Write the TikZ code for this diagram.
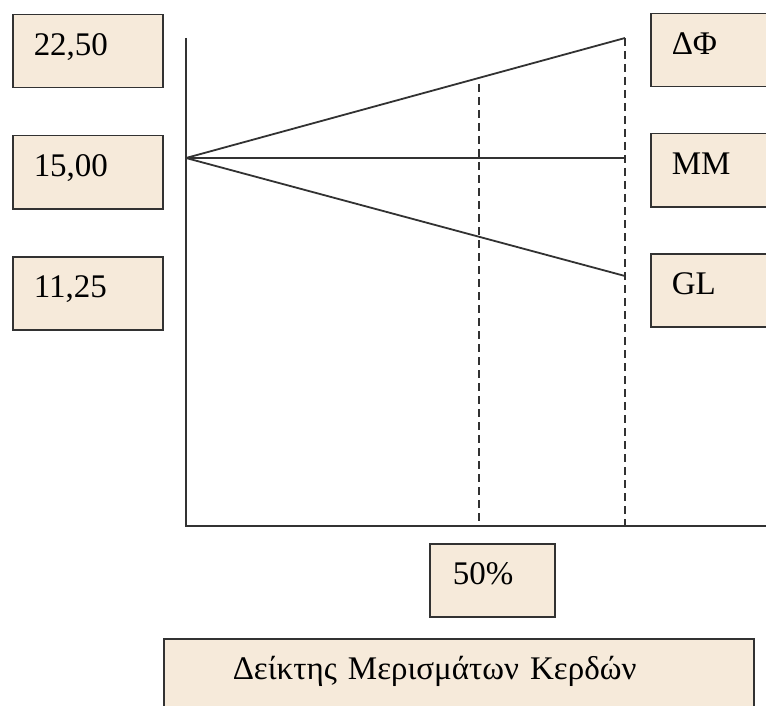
\documentclass[tikz,border=0pt]{standalone}
\usepackage{fontspec}
\setmainfont{Liberation Serif}
\usetikzlibrary{positioning}
\definecolor{boxfill}{RGB}{246,234,218}
\definecolor{inkgray}{RGB}{50,50,50}

\begin{document}
\begin{tikzpicture}[x=1pt, y=-1pt,
    valbox/.style={draw=inkgray, line width=1.5pt, fill=boxfill,
        anchor=north west, inner xsep=21pt, inner ysep=14pt,
        text height=27pt, text depth=18pt, align=left,
        font=\fontsize{33}{38}\selectfont},
    axisline/.style={draw=inkgray, line width=1.6pt},
    trendline/.style={draw=inkgray, line width=1.8pt},
    guideline/.style={draw=inkgray, line width=1.6pt, dash pattern=on 8pt off 5pt}
]
                \clip (0,0) rectangle (766,706);

                % value boxes on the left
                \node[valbox, text width=108pt] (high) at (12,14) {22,50};
                \node[valbox, text width=108pt] (base) at (12,135) {15,00};
                \node[valbox, text width=108pt] (low) at (12,256) {11,25};

                % method boxes on the right
                \node[valbox, text width=100pt] (lbldphi) at (650,13) {ΔΦ};
                \node[valbox, text width=100pt] (lblmm) at (650,133) {MM};
                \node[valbox, text width=100pt] (lblgl) at (650,253) {GL};

                % ratio boxes below
                \node[valbox, text width=79pt, inner xsep=23pt] (ratio) at (429,543) {50\%};
                \node[valbox, text width=452pt, inner xsep=69pt,
                    text depth=40pt] (title) at (163,638) {Δείκτης Μερισμάτων Κερδών};

                \coordinate (ytop) at (186,38);
                \coordinate (orig) at (186,158);
                \coordinate (corner) at (186,526);
                \coordinate (xend) at (772,526);
                \coordinate (dphi) at (625,38);
                \coordinate (mm) at (625,158);
                \coordinate (gl) at (625,276);
                \coordinate (half) at (479,84);

                \draw[axisline] (ytop) -- (corner) -- (xend);
                \foreach \e in {dphi, mm, gl} {
                    \draw[trendline] (orig) -- (\e);
                }
                \draw[guideline] (dphi) -- (dphi |- corner);
                \draw[guideline] (half) -- (half |- corner);
            \end{tikzpicture}
\end{document}
